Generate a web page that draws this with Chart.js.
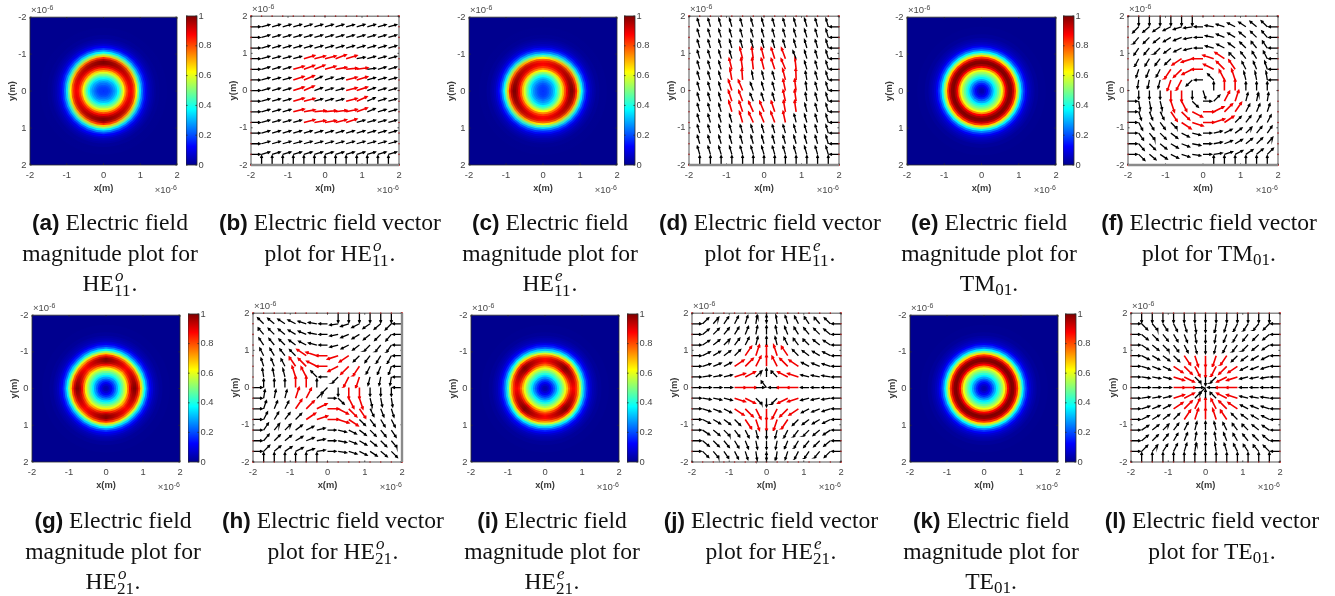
<!DOCTYPE html>
<html><head><meta charset="utf-8">
<script src="https://cdn.jsdelivr.net/npm/chart.js@4"></script>
<style>
html,body{margin:0;padding:0;background:#fff;width:1335px;height:596px;overflow:hidden}
canvas{position:absolute;filter:blur(.35px)}
.sci{position:absolute;font:9.5px "Liberation Sans";color:#4a4a4a;white-space:nowrap;filter:blur(.2px)}
.sci sup{font-size:7px;line-height:0;vertical-align:3px}
.cap{position:absolute;width:300px;text-align:center;font:23.6px/30.5px "Liberation Serif";color:#111}
.cap b{font:bold 22.5px "Liberation Sans"}
.ss{display:inline-block;position:relative;width:17.5px;height:1px}
.ss i{position:absolute;left:1px;top:-23px;font-size:17px;line-height:18px}
.ss span{position:absolute;left:0;top:-8px;font-size:17px;line-height:18px}
.sb{font-size:17px;vertical-align:-4px;line-height:0}
</style></head><body>
<script>
// ---- tick labels
const axisTicks=[-2,-1,0,1,2];
const barTicks=[0,0.2,0.4,0.6,0.8,1];
// ---- jet colour map stops
const jetPos=[0,0.125,0.375,0.625,0.875,1];
const jetRGB=[[0,0,143],[0,0,255],[0,255,255],[255,255,0],[255,0,0],[128,0,0]];
// ---- magnitude against radius (micrometres)
const radii=[0,.05,.1,.15,.2,.25,.3,.35,.4,.45,.5,.55,.6,.65,.7,.75,.8,.85,.9,.95,1,1.05,1.1,1.15,1.2,1.25,1.3,1.35,1.4,1.5,1.7,3];
const ringStrong=[.17,.18,.19,.21,.24,.27,.32,.38,.45,.52,.6,.7,.8,.89,.96,1,1,.95,.84,.68,.52,.38,.27,.18,.12,.08,.05,.035,.025,.012,.003,0];
const ringWeak=[.17,.18,.18,.19,.21,.24,.27,.31,.37,.44,.52,.62,.74,.82,.87,.88,.85,.77,.62,.47,.34,.24,.16,.11,.07,.05,.035,.025,.015,.007,.002,0];
const ringEven=[.03,.04,.07,.11,.16,.22,.29,.36,.42,.48,.54,.61,.74,.88,.96,1,.99,.93,.82,.66,.5,.36,.25,.17,.11,.07,.05,.035,.025,.012,.003,0];
const ringHigh=[.03,.04,.07,.11,.16,.22,.29,.36,.43,.49,.56,.64,.77,.89,.97,1,1,.94,.83,.67,.51,.37,.26,.17,.11,.08,.05,.035,.025,.012,.003,0];
const ringLow=[.03,.04,.07,.11,.16,.21,.27,.34,.41,.47,.53,.6,.69,.78,.85,.88,.87,.82,.72,.58,.43,.31,.22,.15,.1,.06,.04,.03,.02,.01,.003,0];
// ---- vector plot grid
const gridCoords=[-1.714,-1.429,-1.143,-.857,-.571,-.286,0,.286,.571,.857,1.143,1.429,1.714];
const edgeCoords=[-2,-1.714,-1.429,-1.143,-.857,-.571,-.286,0,.286,.571,.857,1.143,1.429,1.714,2];
// rows run from y=+1.714 down to y=-1.714, angles in degrees
const anglesB=[
[15,16,16,16,17,16,16,16,15,16,16,15,15],
[16,16,16,16,16,16,16,16,16,16,16,16,16],
[16,16,16,16,16,16,16,16,16,16,16,16,16],
[16,16,16,16,16,14,14,20,16,10,16,16,16],
[16,16,16,16,20,22,16,10,6,8,8,16,16],
[16,16,16,18,22,24,18,14,14,16,16,16,15],
[16,16,16,18,24,20,17,15,15,18,20,16,16],
[16,16,16,16,14,16,17,16,14,24,24,18,16],
[16,16,16,14,10,6,6,8,12,20,22,16,16],
[16,16,16,16,14,10,10,14,18,16,16,16,16],
[16,16,16,16,16,16,16,16,16,16,16,16,16],
[16,16,16,16,16,16,16,16,16,16,16,16,16],
[16,16,16,16,16,16,16,16,16,16,16,16,16]];
const anglesD=[
[106,106,106,106,106,106,106,106,106,106,106,106,106],
[106,106,106,106,106,106,106,106,106,106,106,106,106],
[106,106,106,106,106,106,106,106,106,106,106,106,106],
[106,106,106,106,104,98,104,108,110,112,106,106,106],
[106,106,106,104,98,96,104,108,112,96,106,106,106],
[106,106,106,100,94,100,104,106,104,92,100,106,106],
[106,106,106,108,112,110,106,106,102,98,98,106,106],
[106,106,106,108,110,112,108,106,102,98,100,106,106],
[106,106,106,106,108,114,112,108,100,98,104,106,106],
[106,106,106,106,106,114,112,110,102,104,106,106,106],
[106,106,106,106,106,106,106,106,106,106,106,106,106],
[106,106,106,106,106,106,106,106,106,106,106,106,106],
[106,106,106,106,106,106,106,106,106,106,106,106,106]];
const anglesF=[
[225,220,214,207,198,189,180,171,162,153,146,140,135],
[230,225,219,211,202,191,180,169,158,149,141,135,130],
[236,231,225,217,207,194,180,166,153,143,135,129,124],
[243,239,233,225,214,198,180,162,146,135,127,121,117],
[252,248,243,236,225,207,180,153,135,124,117,112,108],
[261,259,256,252,243,225,180,135,117,108,104,101,99],
[270,270,270,270,270,270,-72,90,90,90,90,90,90],
[279,281,284,288,297,315,0,45,63,72,76,79,81],
[288,292,297,304,315,333,0,27,45,56,63,68,72],
[297,301,307,315,326,342,0,18,34,45,53,59,63],
[304,309,315,323,333,346,0,14,27,37,45,51,56],
[310,315,321,329,338,349,0,11,22,31,39,45,50],
[315,320,326,333,342,351,0,9,18,27,34,40,45]];
const anglesH=[
[135,140,146,153,162,171,180,189,198,207,214,220,225],
[130,135,141,149,158,169,180,191,202,211,219,225,230],
[124,129,135,143,153,166,180,194,207,217,225,231,236],
[117,121,127,135,146,162,180,198,214,225,233,239,243],
[108,112,117,124,135,153,180,207,225,236,243,248,252],
[99,101,104,108,117,135,180,225,243,252,256,259,261],
[90,90,90,90,90,90,225,270,270,270,270,270,270],
[81,79,76,72,63,45,0,315,297,288,284,281,279],
[72,68,63,56,45,27,0,333,315,304,297,292,288],
[63,59,53,45,34,18,0,342,326,315,307,301,297],
[56,51,45,37,27,14,0,346,333,323,315,309,304],
[50,45,39,31,22,11,0,349,338,329,321,315,310],
[45,40,34,27,18,9,0,351,342,333,326,320,315]];
const anglesJ=[
[45,50,56,63,72,81,90,99,108,117,124,130,135],
[40,45,51,59,68,79,90,101,112,121,129,135,140],
[34,39,45,53,63,76,90,104,117,127,135,141,146],
[27,31,37,45,56,72,90,108,124,135,143,149,153],
[18,22,27,34,45,63,90,117,135,146,153,158,162],
[9,11,14,18,27,45,90,135,153,162,166,169,171],
[0,0,0,0,0,0,128,180,180,180,180,180,180],
[-9,-11,-14,-18,-27,-45,-90,-135,-153,-162,-166,-169,-171],
[-18,-22,-27,-34,-45,-63,-90,-117,-135,-146,-153,-158,-162],
[-27,-31,-37,-45,-56,-72,-90,-108,-124,-135,-143,-149,-153],
[-34,-39,-45,-53,-63,-76,-90,-104,-117,-127,-135,-141,-146],
[-40,-45,-51,-59,-68,-79,-90,-101,-112,-121,-129,-135,-140],
[-45,-50,-56,-63,-72,-81,-90,-99,-108,-117,-124,-130,-135]];
const anglesL=[
[315,310,304,297,288,279,270,261,252,243,236,230,225],
[320,315,309,301,292,281,270,259,248,239,231,225,220],
[326,321,315,307,297,284,270,256,243,233,225,219,214],
[333,329,323,315,304,288,270,252,236,225,217,211,207],
[342,338,333,326,315,297,270,243,225,214,207,202,198],
[351,349,346,342,333,315,270,225,207,198,194,191,189],
[0,0,0,0,0,0,225,180,180,180,180,180,180],
[9,11,14,18,27,45,90,135,153,162,166,169,171],
[18,22,27,34,45,63,90,117,135,146,153,158,162],
[27,31,37,45,56,72,90,108,124,135,143,149,153],
[34,39,45,53,63,76,90,104,117,127,135,141,146],
[40,45,51,59,68,79,90,101,112,121,129,135,140],
[45,50,56,63,72,81,90,99,108,117,124,130,135]];
const redCells=[
".............",
".............",
".............",
"....RRRRR....",
"...RRRRRRR...",
"...RR...RR...",
"...RR...RR...",
"...RR...RR...",
"...RRRRRRR...",
"....RRRRR....",
".............",
".............",
"............."];
const arrowLength=[0.23,0.3];
// edge stubs: grid indexes (into gridCoords) carrying an inward stub on each side
const all=[0,1,2,3,4,5,6,7,8,9,10,11,12], lowHalf=[0,1,2,3,4,5], highHalf=[7,8,9,10,11,12];
const stubLength=0.25;

// ---- panels
const heatPanels=[
 {box:[30,16,147,149],bar:186,h:ringWeak,d:null,v:ringStrong},
 {box:[469,16,148,149],bar:624,h:ringStrong,d:null,v:ringWeak},
 {box:[907,16,149,149],bar:1063,h:ringEven,d:null,v:ringEven},
 {box:[32,314,148,148],bar:188,h:ringHigh,d:ringLow,v:ringHigh},
 {box:[471,314,148,148],bar:627,h:ringLow,d:ringHigh,v:ringLow},
 {box:[910,314,148,148],bar:1065,h:ringEven,d:ringEven,v:ringEven}];
const vectorPanels=[
 {box:[251,15,148,150],a:anglesB,thick:'bottom',left:all,bottom:all,top:[],right:[]},
 {box:[689,15,150,150],a:anglesD,thick:'bottom',right:all,bottom:all,top:[],left:[]},
 {box:[1128,15,150,150],a:anglesF,thick:'bottom',top:lowHalf,left:lowHalf,bottom:highHalf,right:highHalf},
 {box:[253,312,149,150],a:anglesH,thick:'right',top:highHalf,bottom:lowHalf,left:[0,1,2,3,4,5,6],right:[6,7,8,9,10,11,12]},
 {box:[692,312,149,150],a:anglesJ,thick:'',left:all,right:all,top:[6],bottom:[6]},
 {box:[1131,312,149,150],a:anglesL,thick:'',left:all,right:all,top:all,bottom:all}];
const captions=[
 [110,207,'(a)','Electric field','magnitude plot for','HE','o','11'],
 [330,207,'(b)','Electric field vector','plot for ','HE','o','11'],
 [550,207,'(c)','Electric field','magnitude plot for','HE','e','11'],
 [770,207,'(d)','Electric field vector','plot for ','HE','e','11'],
 [989,207,'(e)','Electric field','magnitude plot for','TM','','01'],
 [1209,207,'(f)','Electric field vector','plot for ','TM','','01'],
 [113,505,'(g)','Electric field','magnitude plot for','HE','o','21'],
 [333,505,'(h)','Electric field vector','plot for ','HE','o','21'],
 [552,505,'(i)','Electric field','magnitude plot for','HE','e','21'],
 [771,505,'(j)','Electric field vector','plot for ','HE','e','21'],
 [991,505,'(k)','Electric field','magnitude plot for','TE','','01'],
 [1212,505,'(l)','Electric field vector','plot for ','TE','','01']];

function jet(v){
  let i=0; while(i<jetPos.length-2&&v>jetPos[i+1])i++;
  const t=(v-jetPos[i])/(jetPos[i+1]-jetPos[i]);
  const c=jetRGB[i].map((a,k)=>Math.round(a+(jetRGB[i+1][k]-a)*t));
  return `rgb(${c[0]},${c[1]},${c[2]})`;
}
const GREY='#454545', FONT='"Liberation Sans"';
const framePlugin={id:'frame',afterDatasetsDraw(chart,args,opts){
  const {ctx,chartArea:a}=chart;
  ctx.save();ctx.strokeStyle='#2c2c2c';ctx.lineWidth=.8;
  ctx.strokeRect(a.left,a.top,a.right-a.left,a.bottom-a.top);
  const t=1.6;ctx.beginPath();
  if(chart.scales.x&&chart.scales.x.options.display!==false){
    chart.scales.x.ticks.forEach(k=>{const p=chart.scales.x.getPixelForValue(k.value);
      ctx.moveTo(p,a.bottom);ctx.lineTo(p,a.bottom-t);ctx.moveTo(p,a.top);ctx.lineTo(p,a.top+t);});}
  chart.scales.y.ticks.forEach(k=>{const p=chart.scales.y.getPixelForValue(k.value);
      ctx.moveTo(a.left,p);ctx.lineTo(a.left+t,p);ctx.moveTo(a.right,p);ctx.lineTo(a.right-t,p);});
  ctx.stroke();
  if(opts.thick){ctx.strokeStyle='#8a8a8a';ctx.lineWidth=2.4;ctx.beginPath();
    if(opts.thick==='bottom'){ctx.moveTo(a.left,a.bottom);ctx.lineTo(a.right,a.bottom);}
    else{ctx.moveTo(a.right,a.top);ctx.lineTo(a.right,a.bottom);}
    ctx.stroke();}
  ctx.restore();
}};
function makeCanvas(l,t,w,h){
  const c=document.createElement('canvas');
  c.width=w;c.height=h;c.style.left=l+'px';c.style.top=t+'px';c.style.width=w+'px';c.style.height=h+'px';
  document.body.appendChild(c);return c;
}
function axisOpts(pos,title,fixed,reverse){
  const horizontal=pos==='bottom';
  return {type:'linear',position:pos,min:-2,max:2,reverse:!!reverse,
    grid:{display:false,drawTicks:false},border:{display:false},
    afterBuildTicks:s=>{s.ticks=axisTicks.map(v=>({value:v}));},
    afterFit:s=>{if(horizontal)s.height=fixed;else s.width=fixed;},
    ticks:{color:GREY,font:{family:FONT,size:9.4},padding:horizontal?5:3.5,maxRotation:0,autoSkip:false,callback:v=>String(v)},
    title:{display:true,text:title,color:'#3a3a3a',font:{family:FONT,size:9.3,weight:'bold'},padding:{top:horizontal?4:0,bottom:0}}};
}
const X_SPACE=29,Y_SPACE=23,TOP=8,RIGHT=8;
function baseOpts(){return {responsive:false,animation:false,devicePixelRatio:1,events:[],
  layout:{autoPadding:false,padding:{top:TOP,right:RIGHT,left:0,bottom:0}},
  plugins:{legend:{display:false},tooltip:{enabled:false}}};}
function sci(box){
  const [l,t,w,h]=box;
  const a=document.createElement('div');a.className='sci';a.innerHTML='×10<sup>-6</sup>';
  a.style.left=(l+1)+'px';a.style.top=(t-12)+'px';document.body.appendChild(a);
  const b=a.cloneNode(true);b.style.left='auto';b.style.right=(1335-(l+w)+0)+'px';b.style.top=(t+h+19)+'px';document.body.appendChild(b);
}
// heat maps: concentric discs from outermost to innermost
heatPanels.forEach(p=>{
  const [l,t,w,h]=p.box;
  const cv=makeCanvas(l-Y_SPACE,t-TOP,w+Y_SPACE+RIGHT,h+TOP+X_SPACE);
  const order=radii.map((r,i)=>i).reverse();
  const opts=baseOpts();
  opts.scales={x:axisOpts('bottom','x(m)',X_SPACE),y:axisOpts('left','y(m)',Y_SPACE,true)};
  opts.plugins.frame={thick:''};
  new Chart(cv,{type:'bubble',plugins:[framePlugin],data:{datasets:[{
    clip:0,borderWidth:0,
    data:order.map(i=>({x:0,y:0,r:(radii[i]+0.025)*w/4,h:p.h[i],d:p.d?p.d[i]:null,v:p.v[i]})),
    backgroundColor:c=>{
      const ch=c.chart,R=c.raw,a=ch.chartArea;
      if(!R||!a||!Number.isFinite(a.left+a.right+a.top+a.bottom))return '#00008f';
      const g=ch.ctx.createConicGradient(0,(a.left+a.right)/2,(a.top+a.bottom)/2);
      [0,.25,.5,.75,1].forEach((q,n)=>g.addColorStop(q,jet(n%2?R.v:R.h)));
      if(R.d!==null)[.125,.375,.625,.875].forEach(q=>g.addColorStop(q,jet(R.d)));
      return g;}
  }]},options:opts});
  // colour bar
  const bw=11,bc=makeCanvas(p.bar,t-TOP,bw+24,h+TOP+10);
  const bo=baseOpts();
  bo.layout.padding={top:TOP,right:0,left:0,bottom:10};
  bo.plugins.frame={thick:''};
  bo.scales={x:{display:false,offset:true,grid:{display:false}},
    y:{type:'linear',position:'right',min:0,max:1,grid:{display:false,drawTicks:false},border:{display:false},
      afterBuildTicks:s=>{s.ticks=barTicks.map(v=>({value:v}));},
      afterFit:s=>{s.width=24;},
      ticks:{color:GREY,font:{family:FONT,size:9.4},padding:1.5,autoSkip:false,callback:v=>String(v)}}};
  new Chart(bc,{type:'bar',plugins:[framePlugin],data:{labels:['c'],datasets:[{data:[[0,1]],barPercentage:1,categoryPercentage:1,borderWidth:0,
    backgroundColor:c=>{const a=c.chart.chartArea;if(!a||!Number.isFinite(a.bottom))return '#00f';
      const g=c.chart.ctx.createLinearGradient(0,a.bottom,0,a.top);
      jetPos.forEach((q,i)=>g.addColorStop(q,jet(q)));return g;}}]},options:bo});
  sci(p.box);
});
// vector plots
function arrow(list,x,y,deg,len){
  const r=deg*Math.PI/180,tx=x+len*Math.cos(r),ty=y+len*Math.sin(r),b=0.07;
  list.push({x,y},{x:tx,y:ty},{x:NaN,y:NaN},
   {x:tx-b*Math.cos(r-.45),y:ty-b*Math.sin(r-.45)},{x:tx,y:ty},{x:tx-b*Math.cos(r+.45),y:ty-b*Math.sin(r+.45)},{x:NaN,y:NaN});
}
vectorPanels.forEach(p=>{
  const [l,t,w,h]=p.box;
  const cv=makeCanvas(l-Y_SPACE,t-TOP,w+Y_SPACE+RIGHT,h+TOP+X_SPACE);
  const black=[],red=[],dots=[];
  const n=gridCoords.length;
  p.a.forEach((row,ri)=>row.forEach((deg,ci)=>{
    const isRed=redCells[ri][ci]==='R';
    arrow(isRed?red:black,gridCoords[ci],gridCoords[n-1-ri],deg,arrowLength[isRed?1:0]);
  }));
  p.left.forEach(i=>arrow(black,-2,gridCoords[i],0,stubLength));
  p.right.forEach(i=>arrow(black,2,gridCoords[i],180,stubLength));
  p.top.forEach(i=>arrow(black,gridCoords[i],2,-90,stubLength));
  p.bottom.forEach(i=>arrow(black,gridCoords[i],-2,90,stubLength));
  edgeCoords.forEach(v=>{dots.push({x:v,y:2},{x:v,y:-2},{x:-2,y:v},{x:2,y:v});});
  const opts=baseOpts();
  opts.scales={x:axisOpts('bottom','x(m)',X_SPACE),y:axisOpts('left','y(m)',Y_SPACE)};
  opts.plugins.frame={thick:p.thick};
  new Chart(cv,{type:'scatter',plugins:[framePlugin],data:{datasets:[
    {data:dots,pointRadius:.8,pointBackgroundColor:'#f02020',pointBorderWidth:0,showLine:false,clip:2},
    {data:black,showLine:true,spanGaps:false,pointRadius:0,borderColor:'#000',borderWidth:1.3,tension:0,clip:2},
    {data:red,showLine:true,spanGaps:false,pointRadius:0,borderColor:'#f20000',borderWidth:1.6,tension:0,clip:2}
  ]},options:opts});
  sci(p.box);
});
// captions
captions.forEach(c=>{
  const d=document.createElement('div');d.className='cap';
  d.style.left=(c[0]-150)+'px';d.style.top=c[1]+'px';
  const mode=c[6]?`<span class="ss"><i>${c[6]}</i><span>${c[7]}</span></span>`:`<span class="sb">${c[7]}</span>`;
  const mag=c[4].startsWith('magnitude');
  const tail=c[5]+mode+'.';
  d.innerHTML=`<b>${c[2]}</b> ${c[3]}<br>`+(mag?`${c[4]}<br>${tail}`:`${c[4]}${tail}`);
  document.body.appendChild(d);
});
</script>
</body></html>
